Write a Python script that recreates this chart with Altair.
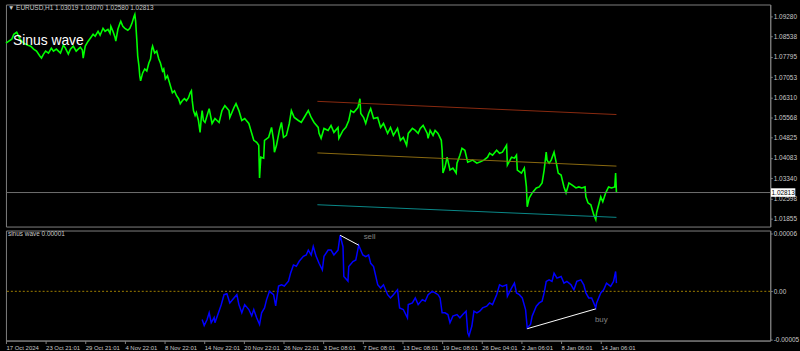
import altair as alt
import pandas as pd

# ---------------- data ----------------
header_text = "\u25BC EURUSD,H1  1.03019 1.03070 1.02580 1.02813"
title_text = "Sinus wave"
sub_text = "sinus wave 0.00001"

tick_bars = [0, 96, 192, 288, 384, 480, 576, 672, 768, 864, 960, 1056, 1152, 1248, 1344, 1440]
tick_labels = ["17 Oct 2024", "23 Oct 21:01", "29 Oct 21:01", "4 Nov 22:01", "8 Nov 22:01",
               "14 Nov 22:01", "20 Nov 22:01", "26 Nov 22:01", "3 Dec 08:01", "7 Dec 08:01",
               "13 Dec 08:01", "19 Dec 08:01", "26 Dec 04:01", "2 Jan 06:01", "8 Jan 06:01",
               "14 Jan 06:01"]

price_ticks = [1.09280, 1.08538, 1.07795, 1.07053, 1.06310, 1.05568, 1.04825,
               1.04083, 1.03340, 1.02598, 1.01855]

price_bar = [0, 7, 14, 19, 26, 34, 43, 53, 60, 67, 74, 82, 86, 91, 96, 103, 110, 115, 122, 132,
             139, 144, 151, 156, 163, 170, 180, 185, 187, 192, 199, 206, 211, 216, 223, 228, 235,
             240, 247, 252, 254, 259, 264, 266, 271, 276, 278, 283, 288, 295, 300, 305, 310, 312,
             314, 317, 319, 322, 324, 326, 331, 336, 341, 346, 350, 353, 355, 360, 365, 370, 374,
             379, 382, 386, 391, 396, 403, 408, 413, 418, 422, 427, 432, 437, 442, 446, 449, 451,
             454, 458, 461, 466, 470, 473, 475, 478, 482, 487, 492, 499,
             506, 516, 523, 530, 540, 542, 552, 557, 564, 571, 578, 588, 593, 600, 607, 612, 614,
             617, 624, 626, 636, 643, 648, 650, 655, 662, 667, 672, 679, 686, 691, 698, 708, 715,
             722, 732, 739, 746, 756, 758, 763, 770, 780, 787, 794, 804, 806, 816, 823, 830, 835,
             842, 852, 857, 859, 866, 871, 878, 883, 890, 900, 907, 914, 924, 931, 938, 948, 955,
             962, 970, 974, 984, 991, 998, 1003,
             1010, 1020, 1022, 1027, 1034, 1039, 1046, 1054, 1056, 1058, 1063, 1068, 1075, 1082,
             1090, 1092, 1099, 1104, 1111, 1118, 1130, 1140, 1147, 1157, 1166, 1171, 1178, 1188,
             1195, 1202, 1212, 1214, 1224, 1231, 1236, 1238, 1248, 1255, 1260, 1262, 1267, 1274,
             1284, 1291, 1298, 1303, 1308, 1310, 1315, 1320, 1327, 1332, 1337, 1344, 1351, 1356,
             1363, 1370, 1380, 1387, 1394, 1402, 1404, 1409, 1416, 1423, 1428, 1430, 1435, 1440,
             1445, 1452, 1459, 1466, 1474, 1476, 1478]

price_close = [1.08297, 1.08370, 1.08443, 1.08625, 1.08698, 1.08443, 1.08297, 1.08225, 1.08188,
               1.08079, 1.08006, 1.07824, 1.07751, 1.07897, 1.08006, 1.07933, 1.08115, 1.08006,
               1.08079, 1.07933, 1.08225, 1.08115, 1.07897, 1.08079, 1.08188, 1.08006, 1.08152,
               1.08043, 1.07751, 1.08188, 1.08370, 1.08516, 1.08625, 1.08552, 1.08734, 1.08589,
               1.08843, 1.08734, 1.08807, 1.08661, 1.08916, 1.08734, 1.08516, 1.08370, 1.08807,
               1.09025, 1.09098, 1.08916, 1.08843, 1.08771, 1.08843, 1.09025, 1.09280, 1.09353,
               1.09098, 1.08370, 1.07824, 1.07460, 1.07096, 1.06914, 1.07205, 1.07351, 1.07278,
               1.07569, 1.07715, 1.08079, 1.08188, 1.07933, 1.08006, 1.07715, 1.07569, 1.07278,
               1.07351, 1.06987, 1.07096, 1.06841, 1.06477, 1.06550, 1.06368, 1.06259, 1.06077,
               1.06186, 1.06259, 1.06186, 1.06295, 1.06477, 1.06550, 1.06186, 1.05822, 1.05640,
               1.05750, 1.05458, 1.05022, 1.05568, 1.05822, 1.05458, 1.05386, 1.05640, 1.05895,
               1.05349,
               1.05531, 1.05386, 1.05822, 1.06004, 1.05822, 1.05568, 1.05932, 1.06077, 1.05822,
               1.05458, 1.05531, 1.05349, 1.05094, 1.04730, 1.04658, 1.04548, 1.03347, 1.04112,
               1.04075, 1.04730, 1.04840, 1.05204, 1.04730, 1.04294, 1.04548, 1.05094, 1.05386,
               1.04840, 1.04912, 1.05349, 1.05822, 1.05568, 1.05458, 1.05386, 1.05568, 1.05822,
               1.05568, 1.05386, 1.05204, 1.04985, 1.04803, 1.05167, 1.05094, 1.05276, 1.05022,
               1.05204, 1.04803, 1.05094, 1.05204, 1.05458, 1.05822, 1.05750, 1.05932, 1.06259,
               1.05713, 1.05568, 1.05349, 1.05713, 1.05895, 1.05531, 1.05568, 1.05204, 1.05349,
               1.04985, 1.05204, 1.04912, 1.05167, 1.04730, 1.04840, 1.04548, 1.04985, 1.05167,
               1.05094, 1.04985, 1.05167,
               1.05276, 1.04985, 1.04803, 1.05094, 1.04912, 1.05094, 1.04985, 1.04730, 1.04366,
               1.03529, 1.03748, 1.04112, 1.03639, 1.03711, 1.03529, 1.03893, 1.04185, 1.04439,
               1.04366, 1.03930, 1.04003, 1.03893, 1.03930, 1.04003, 1.04112, 1.04257, 1.04185,
               1.04366, 1.04257, 1.04294, 1.04548, 1.03821, 1.04112, 1.04075, 1.04185, 1.03639,
               1.03529, 1.03711, 1.03020, 1.02292, 1.02619, 1.02801, 1.02983, 1.03020, 1.03165,
               1.03639, 1.04294, 1.04003, 1.03893, 1.04003, 1.04294, 1.03930, 1.03529, 1.03457,
               1.03020, 1.02801, 1.03165, 1.03093, 1.02983, 1.03020, 1.02983, 1.03020, 1.02656,
               1.02437, 1.02365, 1.02001, 1.01819, 1.02073, 1.02365, 1.02656, 1.02474, 1.02801,
               1.03020, 1.02983, 1.03020, 1.03529, 1.02813]

last_close = 1.02813

channel_names = ["upper", "middle", "lower"]
channel_colors = ["#8b2a10", "#8b6a10", "#0a8a8a"]
channel_bars = [754, 1478]
channel_upper = [1.06161, 1.05677]
channel_middle = [1.04268, 1.03784]
channel_lower = [1.02365, 1.01902]

sinus_bar = [475, 480, 487, 492, 497, 504, 506, 516, 521, 528, 535, 542, 552, 559, 564, 571, 578,
             588, 595, 600, 607, 614, 619, 626, 631, 638, 648, 653, 660, 667, 674, 684, 689, 696,
             703, 710, 720, 727, 732, 739, 744, 751, 758, 766, 770, 780, 787, 794, 804, 809, 816,
             818, 828, 830, 840, 847, 854, 864, 871, 878, 883, 890, 900, 907, 914, 924, 931, 938,
             948, 953, 962, 972, 974, 984, 991, 998, 1008, 1015, 1022, 1032, 1039, 1046, 1051,
             1056, 1063, 1070, 1075, 1082, 1092, 1099, 1106, 1114, 1118, 1121, 1128, 1133, 1140,
             1147, 1154, 1164, 1171, 1178, 1188, 1195, 1202, 1212, 1214, 1224, 1231, 1236, 1243,
             1250, 1258, 1262, 1270, 1274, 1284, 1291, 1298, 1303, 1308, 1315, 1322, 1327, 1334,
             1344, 1351, 1358, 1368, 1375, 1382, 1392, 1399, 1404, 1411, 1418, 1428, 1430, 1440,
             1447, 1454, 1464, 1471, 1476, 1478]
# values in units of 0.00001
sinus_e5 = [-2.92, -3.54, -2.92, -2.23, -3.26, -2.72, -3.26, -2.03, -1.41, -0.35, -0.25, -1.20,
            -0.69, -0.35, -1.38, -2.23, -1.38, -1.89, -2.54, -1.89, -2.75, -3.44, -2.23, -1.72,
            -0.86, 0.00, -0.35, -1.51, 0.55, 0.68, 0.55, 1.06, 1.88, 2.74, 2.60, 3.12, 3.63, 3.77,
            4.28, 3.77, 4.66, 3.63, 2.91, 2.22, 3.63, 4.28, 4.28, 3.77, 4.28, 5.82, 4.63, 1.54,
            1.06, 2.57, 3.09, 3.25, 4.79, 3.77, 3.60, 3.77, 2.91, 2.57, 0.68, 0.34, 0.68, -0.35,
            -0.69, -0.35, 0.16, -1.72, -1.89, -2.75, -1.38, -1.20, -0.69, -1.38, -0.86, -1.03,
            -0.35, 0.00, -0.17, -0.35, -0.69, -2.23, -2.23, -2.41, -3.26, -2.57, -2.41, -2.75,
            -2.41, -2.06, -4.29, -4.63, -3.60, -2.06, -2.23, -2.06, -1.72, -1.54, -1.20, -1.38,
            -0.35, 0.68, 0.51, 0.68, -0.51, 0.34, 0.85, -0.17, -0.35, -0.69, -1.89, -3.78, -3.44,
            -2.57, -1.54, -1.20, -1.03, -0.17, 1.03, 1.19, 1.03, 1.88, 1.37, 1.54, 0.85, 1.03,
            0.68, 0.16, 1.03, 1.19, 0.68, -0.17, -0.69, -0.69, -1.72, -1.20, -0.17, 0.16, 0.85,
            0.51, 1.03, 2.06, 0.85]

sinus_ticks = [6, 0, -5]
sinus_tick_labels = ["0.00006", "0.00", "-0.00005"]

signal_names = ["sell", "buy"]
signal_bar_start = [809, 1262]
signal_bar_end = [854, 1428]
signal_val_start = [5.82, -3.88]
signal_val_end = [4.79, -1.82]
signal_label_bar = [866, 1426]
signal_label_val = [5.6, -2.95]

# ---------------- tables ----------------
X_DOMAIN = [0, 1850.4]
price_df = pd.DataFrame({"bar": price_bar, "price": price_close})
chan_df = pd.DataFrame({
    "bar": channel_bars * 3,
    "price": channel_upper + channel_middle + channel_lower,
    "name": [n for n in channel_names for _ in range(2)],
})
last_df = pd.DataFrame({"price": [last_close], "label": [f"{last_close:.5f}"]})
sin_df = pd.DataFrame({"bar": sinus_bar, "v": sinus_e5})
sig_line_df = pd.DataFrame({
    "bar": signal_bar_start + signal_bar_end,
    "v": signal_val_start + signal_val_end,
    "name": signal_names + signal_names,
})
sig_text_df = pd.DataFrame({"bar": signal_label_bar, "v": signal_label_val, "name": signal_names})
one = pd.DataFrame({"k": [0]})

LBL = "#c8c8c8"
FONT = "Liberation Sans, Arial"

xsc = alt.Scale(domain=X_DOMAIN, nice=False, zero=False)
ysc = alt.Scale(domain=[1.01564, 1.09717], nice=False, zero=False)
ssc = alt.Scale(domain=[-5.11, 6.31], nice=False, zero=False)

price_axis = alt.Axis(orient="right", values=price_ticks, format=".5f", grid=False,
                      tickSize=2, labelPadding=1, labelFontSize=6.5, labelFont=FONT,
                      labelColor=LBL, domainColor="#808080", tickColor="#808080",
                      title=None, labelOverlap=False)

green = alt.Chart(price_df).mark_line(color="#00ff00", strokeWidth=1.6).encode(
    x=alt.X("bar:Q", scale=xsc, axis=None),
    y=alt.Y("price:Q", scale=ysc, axis=price_axis),
)
channels = alt.Chart(chan_df).mark_line(strokeWidth=1).encode(
    x=alt.X("bar:Q", scale=xsc, axis=None),
    y=alt.Y("price:Q", scale=ysc, axis=price_axis),
    color=alt.Color("name:N", scale=alt.Scale(domain=channel_names, range=channel_colors), legend=None),
    detail="name:N",
)
cur_rule = alt.Chart(last_df).mark_rule(color="#707070", strokeWidth=1).encode(
    y=alt.Y("price:Q", scale=ysc, axis=price_axis)
)
tag_box = alt.Chart(last_df).mark_point(
    shape="M-1,-0.35L1,-0.35L1,0.35L-1,0.35Z", filled=True, color="white", opacity=1, size=600
).encode(x=alt.value(784), y=alt.Y("price:Q", scale=ysc, axis=price_axis))
tag_text = alt.Chart(last_df).mark_text(color="black", fontSize=6.5, font=FONT, align="center",
                                        baseline="middle").encode(
    x=alt.value(784), y=alt.Y("price:Q", scale=ysc, axis=price_axis), text="label:N")
header = alt.Chart(one).mark_text(color=LBL, fontSize=6.5, font=FONT, align="left",
                                  baseline="top").encode(
    x=alt.value(2), y=alt.value(1), text=alt.value(header_text))
big_title = alt.Chart(one).mark_text(color="white", fontSize=14, font=FONT,
                                     align="left", baseline="alphabetic").encode(
    x=alt.value(7), y=alt.value(41), text=alt.value(title_text))

top = alt.layer(green, channels, cur_rule, tag_box, tag_text, header, big_title).properties(
    width=771, height=224)

labels_js = "[" + ",".join("'" + s + "'" for s in tick_labels) + "]"
x_axis = alt.Axis(values=tick_bars, labelExpr=f"{labels_js}[round(datum.value/96)]",
                  orient="bottom", tickSize=3, labelAlign="left", labelPadding=1,
                  labelFontSize=6, labelFont=FONT, labelColor=LBL, labelOverlap=False,
                  domainColor="#808080", tickColor="#808080", grid=False, title=None,
                  labelFlush=False)

sexpr = "''"
for t, l in zip(sinus_ticks, sinus_tick_labels):
    sexpr = f"(datum.value == {t} ? '{l}' : {sexpr})"
s_axis = alt.Axis(orient="right", values=sinus_ticks, labelExpr=sexpr, grid=False,
                  tickSize=2, labelPadding=1, labelFontSize=6.5, labelFont=FONT,
                  labelColor=LBL, domainColor="#808080", tickColor="#808080", title=None,
                  labelOverlap=False)

zero_rule = alt.Chart(one).mark_rule(color="#a08000", strokeDash=[2, 2], strokeWidth=1).encode(
    y=alt.datum(0, scale=ssc, axis=s_axis))
blue = alt.Chart(sin_df).mark_line(color="#0000ff", strokeWidth=1.5).encode(
    x=alt.X("bar:Q", scale=xsc, axis=x_axis),
    y=alt.Y("v:Q", scale=ssc, axis=s_axis),
)
sig_lines = alt.Chart(sig_line_df).mark_line(color="white", strokeWidth=1).encode(
    x=alt.X("bar:Q", scale=xsc, axis=x_axis), y=alt.Y("v:Q", scale=ssc, axis=s_axis),
    detail="name:N")
sig_text = alt.Chart(sig_text_df).mark_text(color="#808080", fontSize=8, font=FONT,
                                            align="left", baseline="middle").encode(
    x=alt.X("bar:Q", scale=xsc, axis=x_axis), y=alt.Y("v:Q", scale=ssc, axis=s_axis),
    text="name:N")
sub_label = alt.Chart(one).mark_text(color=LBL, fontSize=6.5, font=FONT, align="left",
                                     baseline="top").encode(
    x=alt.value(2), y=alt.value(1), text=alt.value(sub_text))

bottom = alt.layer(zero_rule, blue, sig_lines, sig_text, sub_label).properties(width=771, height=111)

chart = alt.vconcat(top, bottom, spacing=2).properties(
    padding={"left": 2, "top": 2, "right": 0, "bottom": 0},
    background="black",
).configure_view(stroke="#808080", strokeWidth=1).configure_axis(grid=False, labelOverlap=False)

chart.save("out.html", embed_options={"renderer": "svg", "actions": False})
